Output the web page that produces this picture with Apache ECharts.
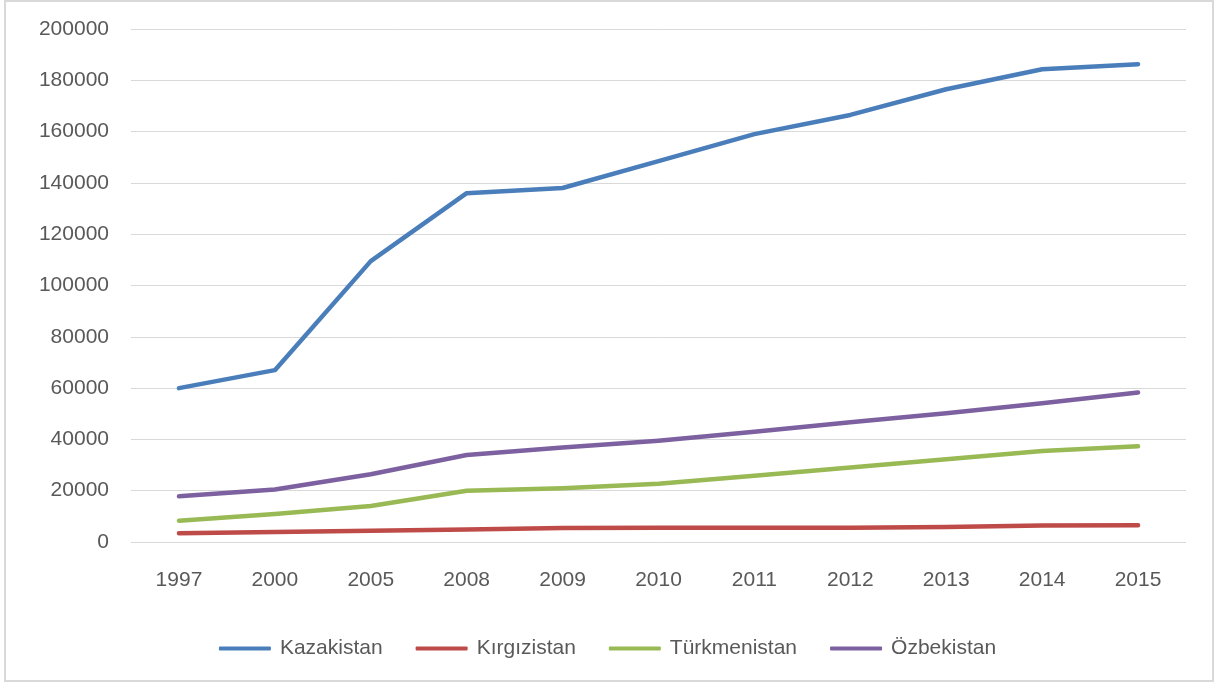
<!DOCTYPE html>
<html>
<head>
<meta charset="utf-8">
<title>Line chart</title>
<script src="https://cdn.jsdelivr.net/npm/echarts@6/dist/echarts.min.js"></script>
<style>
    html, body { margin: 0; padding: 0; background: #fff; }
    #chart { width: 1215px; height: 683px; }
</style>
</head>
<body>
<div id="chart"></div>
<script>
    // 年份
    var years = ['1997', '2000', '2005', '2008', '2009', '2010', '2011', '2012', '2013', '2014', '2015'];
    // 每个国家一条线
    var kazakistan   = [60000, 67000, 109500, 136000, 138000, 148500, 159000, 166500, 176500, 184300, 186300];
    var kirgizistan  = [3400, 3900, 4400, 4900, 5500, 5600, 5600, 5600, 5800, 6400, 6500];
    var turkmenistan = [8300, 10900, 14000, 20000, 21000, 22700, 25800, 29000, 32300, 35500, 37300];
    var ozbekistan   = [17800, 20500, 26400, 33900, 36800, 39500, 43000, 46700, 50200, 54100, 58300];
    var seriesNames = ['Kazakistan', 'Kırgızistan', 'Türkmenistan', 'Özbekistan'];
    var yTicks = { min: 0, max: 200000, interval: 20000 };

    var font = '"Liberation Sans", Arial, sans-serif';
    var colors = ['#4a7ebb', '#be4b48', '#98b954', '#7d60a0'];

    function makeLine(name, data) {
        return {
            type: 'line',
            name: name,
            data: data,
            symbol: 'none',
            lineStyle: { width: 4.5, cap: 'round', join: 'round' }
        };
    }

    var myChart = echarts.init(document.getElementById('chart'));
    myChart.setOption({
        animation: false,
        color: colors,
        textStyle: { fontFamily: font },
        // 外边框
        graphic: [{
            type: 'rect',
            shape: { x: 5, y: 1, width: 1208, height: 680 },
            style: { fill: 'none', stroke: '#d9d9d9', lineWidth: 2 },
            silent: true
        }],
        legend: {
            bottom: 19,
            left: 'center',
            itemGap: 33,
            itemWidth: 52,
            itemHeight: 4,
            icon: 'roundRect',
            textStyle: { color: '#595959', fontSize: 21, fontFamily: font, padding: [0, 0, 0, 4] },
            data: seriesNames
        },
        grid: {
            left: 131,
            right: 29,
            top: 29,
            bottom: 141
        },
        xAxis: {
            type: 'category',
            data: years,
            boundaryGap: true,
            axisTick: { show: false },
            axisLine: { show: false },
            axisLabel: { color: '#595959', fontSize: 21, margin: 28, fontFamily: font }
        },
        yAxis: {
            type: 'value',
            min: yTicks.min,
            max: yTicks.max,
            interval: yTicks.interval,
            axisTick: { show: false },
            axisLine: { show: false },
            axisLabel: {
                color: '#595959', fontSize: 21, margin: 22, fontFamily: font,
                formatter: function (v) { return String(v); } // 不要千分位逗号
            },
            splitLine: { lineStyle: { color: '#d9d9d9', width: 1 } }
        },
        series: [
            makeLine(seriesNames[0], kazakistan),
            makeLine(seriesNames[1], kirgizistan),
            makeLine(seriesNames[2], turkmenistan),
            makeLine(seriesNames[3], ozbekistan)
        ]
    });
    window.addEventListener('resize', function () {
        myChart.resize();
    });
</script>
</body>
</html>
